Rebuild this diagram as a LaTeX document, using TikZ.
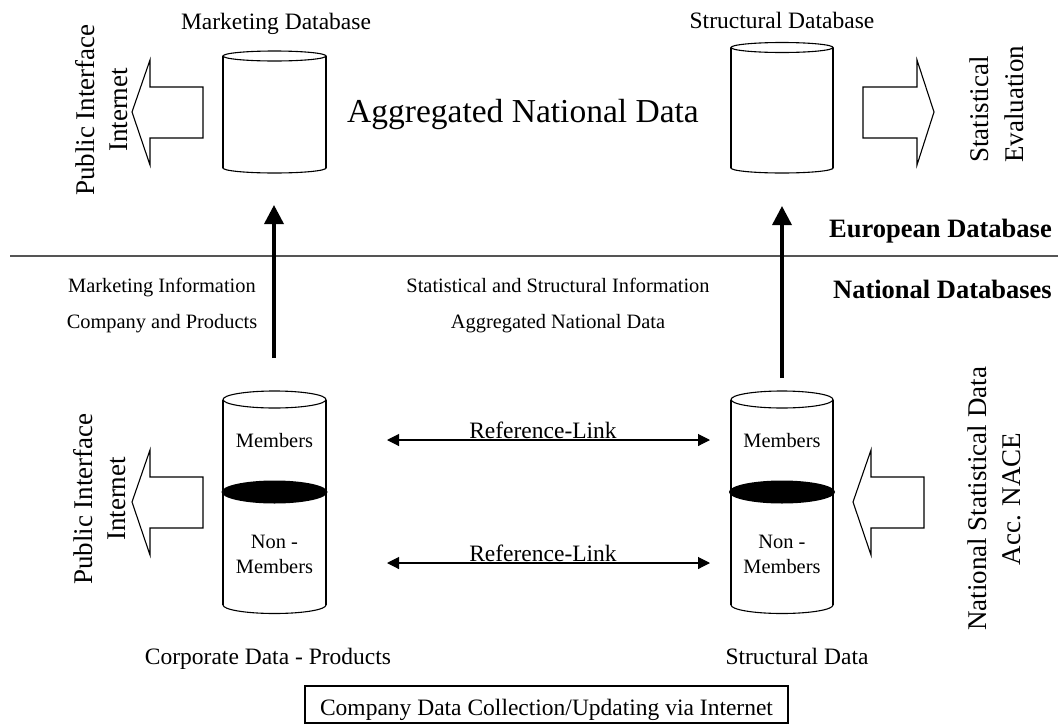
\documentclass[tikz,border=0pt]{standalone}
\usepackage{fontspec}
\setmainfont{Liberation Serif}
\usetikzlibrary{arrows.meta}
\newcommand{\dbcyl}[5]{%
  \pgfmathsetmacro{\cylcx}{(#1+#2)/2}%
  \pgfmathsetmacro{\cylrx}{(#2-#1)/2}%
  \draw[outline] (\cylcx,#3) ellipse [x radius=\cylrx, y radius=#5];
  \draw[outline] (#1,#3) -- (#1,#4);
  \draw[outline] (#2,#3) -- (#2,#4);
  \begin{scope}
    \clip (#1-5,#4) rectangle (#2+5,#4+#5+5);
    \draw[outline] (\cylcx,#4) ellipse [x radius=\cylrx, y radius=#5];
  \end{scope}}
\begin{document}
\begin{tikzpicture}[x=1pt,y=-1pt,
  outline/.style={draw=black, line width=1.1pt},
  fatarrow/.style={draw=black, line width=1.1pt, fill=white, line join=miter},
  upflow/.style={line width=3.5pt, -{Triangle[length=19pt,width=19pt]}},
  reflink/.style={line width=1.1pt, {Triangle[length=12pt,width=12pt]}-{Triangle[length=12pt,width=12pt]}},
  lbl/.style={inner sep=0pt, font=\fontsize{23.5}{28}\selectfont, anchor=base},
  small/.style={inner sep=0pt, font=\fontsize{20.4}{24}\selectfont, anchor=base},
  rot/.style={inner sep=0pt, font=\fontsize{27}{32}\selectfont, rotate=90, anchor=base},
  rotw/.style={inner sep=0pt, font=\fontsize{27}{32}\selectfont, rotate=90, anchor=base west},
  hdr/.style={inner sep=0pt, font=\fontsize{26.5}{32}\bfseries\selectfont, anchor=base east},
  divider/.style={draw={rgb,255:red,85;green,85;blue,85}, line width=1.6pt}
]
\useasboundingbox[fill=white] (0,0) rectangle (1058,726);

% ---------- European level ----------
\node[lbl] (mdbtitle) at (276,29) {Marketing Database};
\node[lbl] (sdbtitle) at (782,28) {Structural Database};
\dbcyl{223}{326}{56}{168}{5}
\dbcyl{731}{833}{47.5}{168}{5}
\coordinate (mdb) at (274.5,112);
\coordinate (sdb) at (782,112);

\node[inner sep=0pt, font=\fontsize{33.5}{40}\selectfont, anchor=base] (aggbig) at (523,122) {Aggregated National Data};

% fat arrow: public interface (top left)
\draw[fatarrow] (132,112) -- (150,60) -- (150,87) -- (203,87) -- (203,138) -- (150,138) -- (150,165) -- cycle;
\node[rot] (pubtop1) at (94,110) {Public Interface};
\node[rot] (pubtop2) at (127,110) {Internet};

% fat arrow: statistical evaluation (top right)
\draw[fatarrow] (863,87) -- (917,87) -- (917,60) -- (934,112) -- (917,165) -- (917,138) -- (863,138) -- cycle;
\node[rotw] (stat1) at (988,163) {Statistical};
\node[rotw] (stat2) at (1023,163) {Evaluation};

% divider
\coordinate (divL) at (10,256);
\coordinate (divR) at (1058,256);
\draw[divider] (divL) -- (divR);
\node[hdr] (euro) at (1052,237) {European Database};
\node[hdr] (natl) at (1052,298) {National Databases};

% upward flows
\coordinate (mktsrc) at (274,358);
\coordinate (mktdst) at (274,205);
\coordinate (strsrc) at (782,378);
\coordinate (strdst) at (782,206);
\draw[upflow] (mktsrc) -- (mktdst);
\draw[upflow] (strsrc) -- (strdst);

\node[small] (mi1) at (162,292) {Marketing Information};
\node[small] (mi2) at (162,328) {Company and Products};
\node[small] (si1) at (558,292) {Statistical and Structural Information};
\node[small] (si2) at (558,328) {Aggregated National Data};

% ---------- National level ----------
\dbcyl{223}{326}{399.5}{605}{8.5}
\dbcyl{731}{833}{399.5}{605}{8.5}
\fill[black] (274.5,492) ellipse [x radius=53, y radius=11.5];
\fill[black] (782,492) ellipse [x radius=53, y radius=11.5];
\coordinate (corp) at (274.5,500);
\coordinate (struct) at (782,500);

\node[small] (cm1) at (274.5,447) {Members};
\node[small] (cn1) at (274.5,548) {Non -};
\node[small] (cn2) at (274.5,573) {Members};
\node[small] (sm1) at (782,447) {Members};
\node[small] (sn1) at (782,548) {Non -};
\node[small] (sn2) at (782,573) {Members};

% reference links
\coordinate (rl1a) at (387,440);
\coordinate (rl1b) at (710,440);
\coordinate (rl2a) at (387,563);
\coordinate (rl2b) at (710,563);
\draw[reflink] (rl1a) -- (rl1b);
\draw[reflink] (rl2a) -- (rl2b);
\node[lbl] (ref1) at (543,438.8) {Reference-Link};
\node[lbl] (ref2) at (543,561.8) {Reference-Link};

% fat arrow: public interface (bottom left)
\draw[fatarrow] (132,502) -- (150,450) -- (150,477) -- (203,477) -- (203,528) -- (150,528) -- (150,555) -- cycle;
\node[rot] (pubbot1) at (92,499) {Public Interface};
\node[rot] (pubbot2) at (125,499) {Internet};

% fat arrow: national statistical data (bottom right)
\draw[fatarrow] (853,502) -- (871,450) -- (871,477) -- (924,477) -- (924,528) -- (871,528) -- (871,555) -- cycle;
\node[rot] (nsd1) at (986,499) {National Statistical Data};
\node[rot] (nsd2) at (1020,499) {Acc. NACE};

\node[lbl] (corptitle) at (268,664) {Corporate Data - Products};
\node[lbl] (structtitle) at (797,664) {Structural Data};

\draw[outline] (305,686) rectangle (788,723);
\node[lbl] (collect) at (546.5,715) {Company Data Collection/Updating via Internet};
\end{tikzpicture}
\end{document}
